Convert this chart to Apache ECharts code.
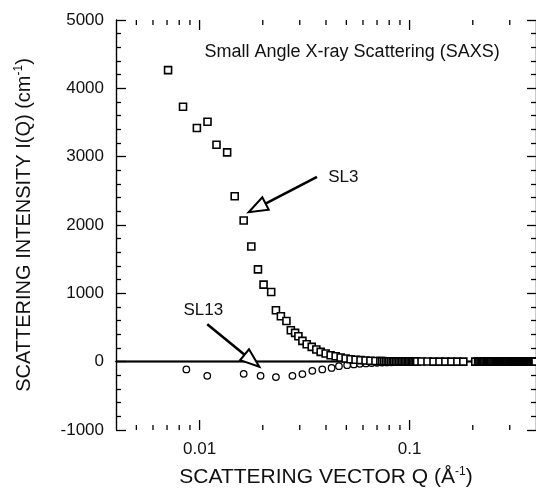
<!DOCTYPE html>
<html>
<head>
<meta charset="utf-8">
<script src="https://cdn.jsdelivr.net/npm/echarts@6/dist/echarts.min.js"></script>
<style>html,body{margin:0;padding:0;background:#fff}#c{width:536px;height:499px}</style>
</head>
<body>
<div id="c"></div>
<script>
// SL3 (squares)
const sl3Q = [0.00708,0.00834,0.00971,0.01091,0.01204,0.01353,0.01470,0.01622,0.01764,0.01897,
  0.02017,0.02193,0.02310,0.02439,0.02592,0.02720,0.02851,0.02956,0.03088,0.03238,
  0.03421,0.03597,0.03773,0.03985,0.04208,0.04446,0.04697,0.04959,0.05236,0.0553,
  0.0584,0.0617,0.0651,0.0688,0.0726,
  0.0741,0.0756,0.0771,0.0786,0.0801,0.0816,0.0831,0.0846,0.0861,0.0876,
  0.0891,0.0906,0.0921,0.0936,0.0951,0.0966,0.0981,0.0996,0.1011,0.1026,
  0.1041,0.1056,0.1071,0.1086,
  0.1140,0.1217,0.1300,0.1388,0.1481,0.1582,0.1689,0.1803,0.2055,
  0.212,0.215,0.218,0.221,0.224,0.227,0.230,0.233,0.236,0.239,
  0.242,0.245,0.248,0.251,0.254,0.257,0.260,0.263,0.266,0.269,
  0.272,0.275,0.278,0.281,0.284,0.287,0.290,0.293,0.296,0.299,
  0.302,0.305,0.308,0.311,0.314,0.317,0.320,0.323,0.326,0.329,
  0.332,0.335,0.338,0.341,0.344,0.347,0.350,0.353,0.356,0.359,
  0.362,0.365,0.368,0.371,0.374,0.377,0.380,0.383,0.386,0.389,
  0.392,0.395,0.398];
const sl3I = [4266,3730,3419,3511,3175,3063,2420,2066,1686,1350,
  1127,1019,752,664,596,460,421,372,304,255,
  216,178,143,120,95,80,61,47,36,28,
  22,18,14,10,8,
  8,7,7,7,6,6,6,5,5,5,
  5,4,4,4,4,3,3,3,3,3,
  2,2,2,2,
  2,2,1,1,1,1,1,1,1,
  0,0,0,0,0,0,0,0,0,0,
  0,0,0,0,0,0,0,0,0,0,
  0,0,0,0,0,0,0,0,0,0,
  0,0,0,0,0,0,0,0,0,0,
  0,0,0,0,0,0,0,0,0,0,
  0,0,0,0,0,0,0,0,0,0,
  0,0,0];
// SL13 (circles)
const sl13Q = [0.00865,0.01088,0.01622,0.01952,0.02310,0.02768,0.03088,0.03443,0.03840,0.04253,
  0.04610,0.05043,0.0543,0.058,0.062,0.066,0.070,0.074,0.078,0.082,
  0.086,0.090,0.094,0.098,0.102,0.106];
const sl13I = [-114,-207,-178,-207,-226,-207,-182,-134,-114,-91,
  -66,-51,-41,-32,-26,-20,-16,-13,-11,-9,
  -8,-7,-6,-5,-4,-3];
// axis ticks
const xMajorTicks = [0.01, 0.1];
const xMinorTicks = [0.005,0.006,0.007,0.008,0.009,0.02,0.03,0.04,0.05,0.06,0.07,0.08,0.09,0.2,0.3];
const xMin = 0.004, xMax = 0.4, yMin = -1000, yMax = 5000, yStep = 1000;
// annotations
const noteText = ['Small Angle X-ray Scattering (SAXS)', 'SL3', 'SL13'];
const notePos = [[0.05326, 4536], [0.04839, 2703], [0.01042, 756]];
const arrowFrom = [[0.03624, 2703], [0.01088, 547]];
const arrowTo = [[0.01713, 2186], [0.01925, -74]];

const FONT = 'Liberation Sans, Arial, sans-serif';
const zip = (a, b) => a.map((v, i) => [v, b[i]]);

const chart = echarts.init(document.getElementById('c'), null, {renderer: 'canvas'});
const axisLine = {show: true, lineStyle: {color: '#000', width: 1.4}};

chart.setOption({
  backgroundColor: '#fff',
  animation: false,
  grid: {left: 116, top: 20, width: 422, height: 410, containLabel: false},
  xAxis: [{
    type: 'log', logBase: 10, min: xMin, max: xMax, position: 'bottom',
    axisLine: axisLine, axisTick: {show: false}, splitLine: {show: false},
    axisLabel: {fontSize: 17, fontFamily: FONT, color: '#111', margin: 11, showMinLabel: false, showMaxLabel: false},
    name: 'SCATTERING VECTOR Q (Å{sup|-1})', nameLocation: 'middle', nameGap: 36,
    nameTextStyle: {fontSize: 21, fontFamily: FONT, color: '#111', lineHeight: 23,
      rich: {sup: {fontSize: 12, fontFamily: FONT, color: '#111', verticalAlign: 'top', lineHeight: 12}}}
  }, {
    type: 'log', logBase: 10, min: xMin, max: xMax, position: 'top',
    axisLine: axisLine, axisTick: {show: false}, axisLabel: {show: false}, splitLine: {show: false}
  }],
  yAxis: [{
    type: 'value', min: yMin, max: yMax, interval: yStep, position: 'left',
    axisLine: axisLine,
    axisTick: {show: true, inside: true, length: 10, lineStyle: {color: '#000', width: 1.3}},
    minorTick: {show: true, splitNumber: 5, length: 5, lineStyle: {color: '#000', width: 1.3}},
    splitLine: {show: false}, minorSplitLine: {show: false},
    axisLabel: {fontSize: 17, fontFamily: FONT, color: '#111', margin: 12, formatter: v => String(v)},
    name: 'SCATTERING INTENSITY I(Q) (cm{sup|-1})', nameLocation: 'middle', nameGap: 81, nameRotate: 90,
    nameTextStyle: {fontSize: 20, fontFamily: FONT, color: '#111', lineHeight: 22,
      rich: {sup: {fontSize: 12, fontFamily: FONT, color: '#111', verticalAlign: 'top', lineHeight: 12}}}
  }, {
    type: 'value', min: yMin, max: yMax, interval: yStep, position: 'right',
    axisLine: axisLine,
    axisTick: {show: true, inside: true, length: 9, lineStyle: {color: '#000', width: 1.3}},
    minorTick: {show: true, splitNumber: 5, length: 5, lineStyle: {color: '#000', width: 1.3}},
    splitLine: {show: false}, axisLabel: {show: false}
  }],
  series: [{
    name: 'SL13', type: 'scatter', symbol: 'circle', symbolSize: 6.5,
    itemStyle: {color: '#fff', borderColor: '#000', borderWidth: 1.3, opacity: 1},
    data: zip(sl13Q, sl13I), z: 3,
    markLine: {silent: true, symbol: ['none', 'none'], label: {show: false},
      lineStyle: {color: '#000', width: 1.4, type: 'solid'}, data: [{yAxis: 0}], z: 2}
  }, {
    name: 'SL3', type: 'scatter', symbol: 'rect', symbolSize: 7,
    itemStyle: {color: '#fff', borderColor: '#000', borderWidth: 1.6, opacity: 1},
    data: zip(sl3Q, sl3I), z: 4
  }, {
    name: 'xticks', type: 'custom', silent: true, z: 5, clip: false,
    data: xMajorTicks.map(v => [v, yMin, 1]).concat(xMinorTicks.map(v => [v, yMin, 0])),
    renderItem: function (params, api) {
      const x = api.value(0), major = api.value(2) === 1;
      const len = major ? 10 : 5;
      const b = api.coord([x, yMin]), t = api.coord([x, yMax]);
      const st = {stroke: '#000', lineWidth: 1.3};
      return {type: 'group', children: [
        {type: 'line', shape: {x1: b[0], y1: b[1], x2: b[0], y2: b[1] - len}, style: st},
        {type: 'line', shape: {x1: t[0], y1: t[1], x2: t[0], y2: t[1] + len}, style: st}
      ]};
    }
  }, {
    name: 'notes', type: 'custom', silent: true, z: 6, clip: false,
    data: notePos.map((p, i) => [p[0], p[1], i]),
    renderItem: function (params, api) {
      const i = api.value(2);
      const p = api.coord([api.value(0), api.value(1)]);
      const children = [{type: 'text', style: {text: noteText[i], x: p[0], y: p[1],
        fontSize: i === 0 ? 18 : 17, fontFamily: FONT, fill: '#111', align: 'center', verticalAlign: 'middle'}}];
      if (i >= 1) {
        const a = api.coord(arrowFrom[i - 1]), t = api.coord(arrowTo[i - 1]);
        const dx = t[0] - a[0], dy = t[1] - a[1], d = Math.hypot(dx, dy);
        const ux = dx / d, uy = dy / d, L = 19, W = 7;
        const bx = t[0] - ux * L, by = t[1] - uy * L;
        children.push({type: 'line', shape: {x1: a[0], y1: a[1], x2: bx, y2: by},
          style: {stroke: '#000', lineWidth: 2.6}});
        children.push({type: 'polygon', shape: {points: [[t[0], t[1]], [bx - uy * W, by + ux * W], [bx + uy * W, by - ux * W]]},
          style: {fill: '#fff', stroke: '#000', lineWidth: 2}});
      }
      return {type: 'group', children: children};
    }
  }]
});
</script>
</body>
</html>
